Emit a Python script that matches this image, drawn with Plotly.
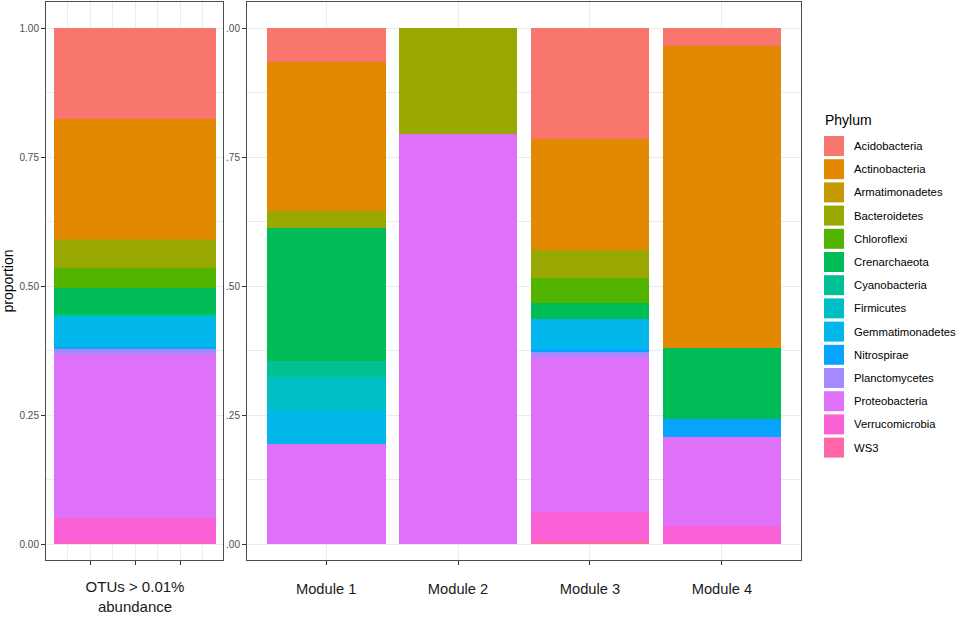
import plotly.graph_objects as go

# phylum order as in the ggplot legend (first level stacks on top)
phyla = ["Acidobacteria", "Actinobacteria", "Armatimonadetes", "Bacteroidetes",
         "Chloroflexi", "Crenarchaeota", "Cyanobacteria", "Firmicutes",
         "Gemmatimonadetes", "Nitrospirae", "Planctomycetes", "Proteobacteria",
         "Verrucomicrobia", "WS3"]
colors = ["#F8766D", "#E38900", "#C49A00", "#99A800", "#53B400", "#00BC56", "#00C094",
          "#00BFC4", "#00B6EB", "#06A4FF", "#A58AFF", "#DF70F8", "#FB61D7", "#FF66A8"]

# left panel: all OTUs above 0.01% abundance
otu_label = "OTUs > 0.01%<br>abundance"
otu_vals = [0.176, 0.232, 0.002, 0.056, 0.037, 0.052, 0.003, 0.003,
            0.057, 0.005, 0.008, 0.318, 0.049, 0.002]

# right panel: modules
modules = ["Module 1", "Module 2", "Module 3", "Module 4"]
module1 = [0.065, 0.290, 0, 0.032, 0, 0.258, 0.031, 0.066, 0.064, 0, 0, 0.194, 0, 0]
module2 = [0, 0, 0, 0.206, 0, 0, 0, 0, 0, 0, 0, 0.794, 0, 0]
module3 = [0.216, 0.215, 0, 0.053, 0.048, 0.032, 0, 0, 0.059, 0.004, 0.010, 0.301, 0.056, 0.006]
module4 = [0.034, 0.586, 0, 0, 0, 0.138, 0, 0, 0, 0.034, 0, 0.174, 0.034, 0]
module_vals = [module1, module2, module3, module4]

yticks = [0, 0.25, 0.5, 0.75, 1.0]
ytick_left = ["0.00", "0.25", "0.50", "0.75", "1.00"]
ytick_right = [".00", ".25", ".50", ".75", ".00"]

W, H = 957, 618
FONT = "Liberation Sans, Arial, sans-serif"

fig = go.Figure()

# plotly stacks the first trace at the bottom, so go backwards
for i in reversed(range(len(phyla))):
    fig.add_trace(go.Bar(x=[2], y=[otu_vals[i]], name=phyla[i], width=3.6,
                         marker=dict(color=colors[i], line=dict(width=0)),
                         xaxis="x", yaxis="y", showlegend=False))
    fig.add_trace(go.Bar(x=modules, y=[m[i] for m in module_vals], name=phyla[i], width=0.9,
                         marker=dict(color=colors[i], line=dict(width=0)),
                         xaxis="x2", yaxis="y2", showlegend=False))

grid = "#EBEBEB"
border = "#4D4D4D"
ydom = [1 - 560 / H, 1 - 2 / H]
yrange = [-16 / 516, 1 + 26 / 516]

common_y = dict(range=yrange, domain=ydom, tickvals=yticks, showgrid=True, gridcolor=grid,
                gridwidth=1, zeroline=False, showline=True, mirror=True, linecolor=border,
                linewidth=1, ticks="outside", ticklen=4, tickcolor="#333333",
                tickfont=dict(size=10, color="#4D4D4D"), automargin=False,
                minor=dict(tickvals=[0.125, 0.375, 0.625, 0.875], showgrid=True,
                           gridcolor=grid, gridwidth=0.5, ticks=""))

fig.update_layout(
    width=W, height=H,
    margin=dict(l=0, r=0, t=0, b=0),
    paper_bgcolor="white", plot_bgcolor="white",
    barmode="stack", bargap=0,
    font=dict(family=FONT),
    showlegend=False,
    xaxis=dict(domain=[46 / W, 223 / W], range=[1 - 44 / 45, 3 + 43 / 45],
               tickvals=[1, 2, 3], ticktext=["", otu_label, ""], automargin=False,
               showgrid=True, gridcolor=grid, gridwidth=1, zeroline=False,
               showline=True, mirror=True, linecolor=border, linewidth=1,
               ticks="outside", ticklen=4, tickcolor="#333333", ticklabelstandoff=9,
               tickfont=dict(size=15, color="#1A1A1A"),
               minor=dict(tickvals=[0.5, 1.5, 2.5, 3.5], showgrid=True,
                          gridcolor=grid, gridwidth=0.5, ticks="")),
    yaxis=dict(anchor="x", ticktext=ytick_left,
               title=dict(text="proportion", font=dict(size=14, color="black"), standoff=8),
               **common_y),
    xaxis2=dict(domain=[247 / W, 801 / W], range=[-0.6, 3.6], type="category",
                automargin=False,
                showgrid=True, gridcolor=grid, gridwidth=1, zeroline=False,
                showline=True, mirror=True, linecolor=border, linewidth=1,
                ticks="outside", ticklen=4, tickcolor="#333333", ticklabelstandoff=11,
                tickfont=dict(size=14.7, color="#1A1A1A")),
    yaxis2=dict(anchor="x2", ticktext=ytick_right, **common_y),
)

# ggplot-style legend with big square keys
shapes = []
annotations = [dict(x=823 / W, y=1 - 120 / H, xref="paper", yref="paper", text="Phylum",
                    showarrow=False, xanchor="left", yanchor="middle",
                    font=dict(size=14, color="black"))]
step = 23.2
for i, name in enumerate(phyla):
    top = 136 + i * step
    shapes.append(dict(type="rect", xref="paper", yref="paper",
                       x0=824 / W, x1=844 / W, y0=1 - top / H, y1=1 - (top + 20) / H,
                       fillcolor=colors[i], line=dict(width=0)))
    annotations.append(dict(x=852 / W, y=1 - (top + 10) / H, xref="paper", yref="paper",
                            text=name, showarrow=False, xanchor="left", yanchor="middle",
                            font=dict(size=11.3, color="black")))
fig.update_layout(shapes=shapes, annotations=annotations)

# drop the browser's default 8px page margin so the figure sits at the window corner
fig.write_html("out.html", config={"displayModeBar": False},
               post_script="document.body.style.margin='0';")
